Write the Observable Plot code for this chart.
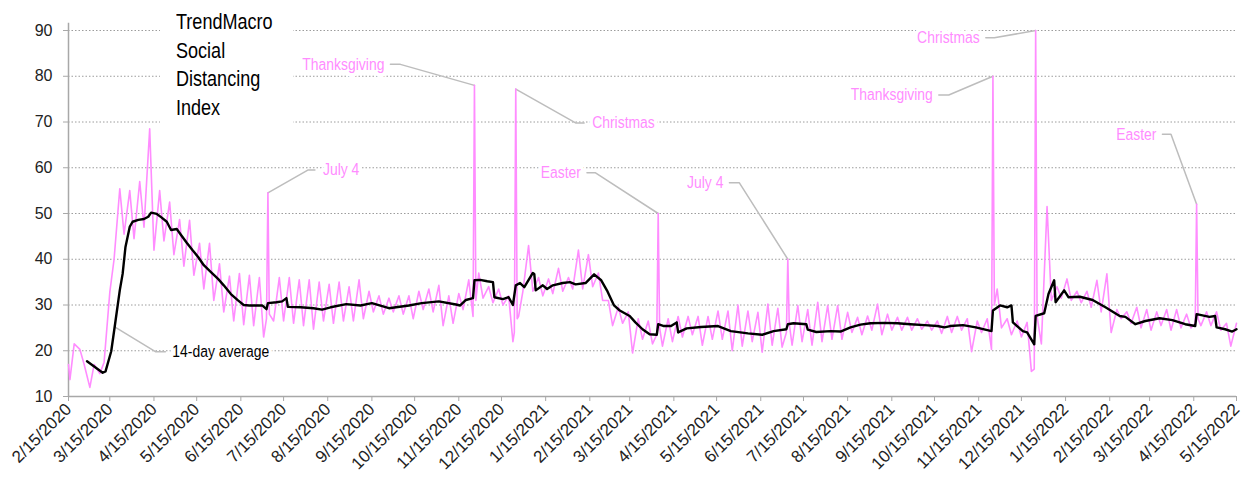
<!DOCTYPE html>
<html><head><meta charset="utf-8">
<script src="https://cdn.jsdelivr.net/npm/d3@7"></script>
<script src="https://cdn.jsdelivr.net/npm/@observablehq/plot@0.6"></script>
<style>
body{margin:0;background:#fff;}
#wrap{position:relative;width:1249px;height:485px;overflow:hidden;}
#wrap svg{display:block;}
#title{position:absolute;left:160px;top:0;width:133px;height:130px;background:#fff;box-sizing:border-box;padding:8px 0 0 16px;font-family:'Liberation Sans',Arial,sans-serif;font-size:22px;line-height:28.5px;color:#000;}
#title span{display:block;transform:scaleX(0.82);transform-origin:left top;white-space:nowrap;}
</style></head><body>
<div id="wrap"><div id="title"><span>TrendMacro</span><span>Social</span><span>Distancing</span><span>Index</span></div></div>
<script>
// ---------- data ----------
const firstDate = "2020-02-15";
const firstValue = 17;
const weekStart = "2020-02-16"; // first Sunday
// Sunday (weekend peak) readings, one per week
const sundayValues = [13.7,20.3,12,15,32.8,55.4,55,57,68.5,55,52.5,48.7,48.5,43.5,43.5,39,36.3,36.9,36.5,36,
  28,36,36,35.5,35.5,35,34.5,35,34,35.5,33,32,31.5,32,32,33,33.5,34.3,32,32.5,
  35.5,37,34,33.5,32,27.5,43,36,35.7,38,36,42,41,37,31,29.5,28.5,27,26.5,50,
  27,27.5,27.5,27.5,27.5,28.7,28.7,30,28.7,28.4,30.2,29.3,40,29.9,29,30.6,29.9,29.9,28.4,27.3,
  27.6,30.2,28,27.3,27.3,27,26.5,26.5,27.5,27.5,27,26.5,27,33.5,27,26.5,26.2,27.5,51.5,34,
  35.7,33,33,35.4,36.8,29,28.5,29.5,29,28.5,29,29,28,52,28.5,28.5,26,26];
// Wednesday (midweek) readings, one per week
const wednesdayValues = [21.5,17,17,17.5,40,45.5,44.5,47,42,44,41,38.5,36.5,33.5,31,28.5,26.5,25.7,25.5,23,
  26.5,26.5,26,25.5,24.7,26.5,26,26.5,26.5,27,28.5,28,28.5,28,27,29,28.5,25.5,26,29,
  27.5,31.5,30.5,30,22,33,33,32,32.5,33,33.5,33.5,34,31,25.5,26,19.5,22.5,21.5,21,
  22,23,23.5,21.2,22.5,22.5,20,21,22,19.7,21.2,20.8,21.2,22,21.2,22,22.5,22.5,24,23.5,
  24.5,23.5,24.5,24.5,24.5,24.7,24.5,23.8,24,24.5,19.8,24,20.3,25,23.5,23,15.5,21.5,31,31.5,
  31,30.5,29.5,28.5,24,27,26,25,24.5,25.5,24.5,25,25,25.5,25.5,24.5,21];
// holidays
const holidayLabels = ["July 4","Thanksgiving","Christmas","Easter","July 4","Thanksgiving","Christmas","Easter"];
const holidayDates = ["2020-07-04","2020-11-26","2020-12-25","2021-04-04","2021-07-04","2021-11-25","2021-12-25","2022-04-17"];
const holidayValues = [54.5,78,77.2,50,40,80,90,52];
const dayBeforeValues = [27,27.5,24,23.5,24,20.3,16,26];
const dayAfterValues = [28,31,27,25,26,30,27.5,27];
// label placement (data space)
const labelElbowDates = ["2020-08-01","2020-10-05","2021-02-05","2021-02-19","2021-05-31","2021-10-25","2021-11-26","2022-03-30"];
const labelTipDates = ["2020-08-06","2020-09-28","2021-02-11","2021-02-13","2021-05-24","2021-10-18","2021-11-20","2022-03-24"];
const labelValues = [59.5,82.6,69.8,58.9,56.7,75.9,88.4,67.3];
const labelSides = ["start","end","start","end","end","end","end","end"];
// 14-day average
const avgDates = ["2020-02-28","2020-03-10","2020-03-12","2020-03-16","2020-03-19","2020-03-22","2020-03-24","2020-03-26","2020-03-29","2020-03-31",
  "2020-04-04","2020-04-08","2020-04-11","2020-04-13","2020-04-17","2020-04-20","2020-04-24","2020-04-27","2020-05-01","2020-05-04",
  "2020-05-08","2020-05-12","2020-05-16","2020-05-20","2020-05-25","2020-05-30","2020-06-03","2020-06-08","2020-06-13","2020-06-17",
  "2020-06-21","2020-06-27","2020-06-30","2020-07-03","2020-07-04","2020-07-10","2020-07-14","2020-07-17","2020-07-18","2020-07-27",
  "2020-08-05","2020-08-11","2020-08-17","2020-08-28","2020-09-07","2020-09-15","2020-09-27","2020-10-02","2020-10-11","2020-10-20",
  "2020-11-01","2020-11-13","2020-11-16","2020-11-20","2020-11-25","2020-11-26","2020-11-30","2020-12-05","2020-12-09","2020-12-10",
  "2020-12-16","2020-12-20","2020-12-23","2020-12-25","2020-12-28","2020-12-31","2021-01-06","2021-01-07","2021-01-08","2021-01-13",
  "2021-01-16","2021-01-20","2021-01-27","2021-02-01","2021-02-05","2021-02-12","2021-02-18","2021-02-23","2021-02-27","2021-03-04",
  "2021-03-08","2021-03-15","2021-03-19","2021-03-24","2021-03-29","2021-04-03","2021-04-04","2021-04-08","2021-04-13","2021-04-17",
  "2021-04-18","2021-04-24","2021-05-04","2021-05-16","2021-05-25","2021-06-06","2021-06-16","2021-06-24","2021-07-03","2021-07-04",
  "2021-07-08","2021-07-17","2021-07-18","2021-07-24","2021-08-03","2021-08-10","2021-08-17","2021-08-24","2021-08-31","2021-09-10",
  "2021-09-19","2021-09-28","2021-10-08","2021-10-17","2021-10-22","2021-10-26","2021-11-04","2021-11-13","2021-11-24","2021-11-25",
  "2021-11-30","2021-12-05","2021-12-08","2021-12-09","2021-12-16","2021-12-19","2021-12-24","2021-12-25","2021-12-31","2022-01-03",
  "2022-01-07","2022-01-08","2022-01-14","2022-01-17","2022-01-25","2022-02-03","2022-02-12","2022-02-22","2022-02-26","2022-03-05",
  "2022-03-12","2022-03-22","2022-03-31","2022-04-09","2022-04-16","2022-04-17","2022-04-26","2022-04-30","2022-05-01","2022-05-07",
  "2022-05-12","2022-05-15"];
const avgValues = [17.7,15.2,15.5,19.9,26.5,33.2,36.8,42.7,47.1,48.2,
  48.6,48.8,49.3,50.2,49.9,49.2,48.2,46.4,46.6,45.3,
  43.6,42,40.5,38.7,37.2,35.7,34.3,32.4,31,30,
  29.9,29.9,29.9,29.1,30.4,30.6,30.8,31.5,29.6,29.5,
  29.3,29,29.5,30.2,29.9,30.4,29.3,29.5,29.9,30.4,
  30.8,30.1,29.9,31.1,31.5,35.4,35.5,35.2,35,31.7,
  31.3,31.7,30,34.3,34.8,33.9,37,36.8,33.2,34.3,
  33.5,34.3,34.8,35,34.5,34.8,36.7,35.4,33.2,29.9,
  28.8,27.6,26.2,24.7,23.6,23.5,25.8,25.4,25.4,26.2,
  24,24.9,25.2,25.4,24.3,23.8,23.5,24.3,24.7,25.8,
  26,25.8,24.6,24.1,24.3,24.2,25.1,25.7,26,26.1,
  26,25.8,25.6,25.4,25.1,25.4,25.6,25.1,24.3,28.8,
  29.9,29.5,29.9,26.2,24.3,24,21.4,27.6,28.2,32.4,
  35.4,30.6,33.2,31.7,31.8,31.1,29.5,27.6,27.4,25.8,
  26.5,27.1,26.7,25.8,25.4,28,27.4,27.6,25.1,24.7,
  24.2,24.7];
const avgLabel = {text: "14-day average", anchorDate: "2020-03-19", anchorValue: 25.1, elbowDate: "2020-04-16", tipDate: "2020-04-23", value: 19.8};
// axes
const yTicks = [10,20,30,40,50,60,70,80,90];
const xTickDates = ["2020-02-15","2020-03-15","2020-04-15","2020-05-15","2020-06-15","2020-07-15","2020-08-15","2020-09-15","2020-10-15","2020-11-15","2020-12-15",
  "2021-01-15","2021-02-15","2021-03-15","2021-04-15","2021-05-15","2021-06-15","2021-07-15","2021-08-15","2021-09-15","2021-10-15","2021-11-15","2021-12-15",
  "2022-01-15","2022-02-15","2022-03-15","2022-04-15","2022-05-15"];

// ---------- build ----------
const D = s => new Date(s + "T00:00:00Z");
const pinkMap = new Map();
const put = (d, v) => pinkMap.set(+d, v);
put(D(firstDate), firstValue);
const ws = D(weekStart);
sundayValues.forEach((v, i) => put(d3.utcDay.offset(ws, 7 * i), v));
wednesdayValues.forEach((v, i) => put(d3.utcDay.offset(ws, 7 * i + 3), v));
holidayDates.forEach((s, i) => {
  put(d3.utcDay.offset(D(s), -1), dayBeforeValues[i]);
  put(d3.utcDay.offset(D(s), 1), dayAfterValues[i]);
});
holidayDates.forEach((s, i) => put(D(s), holidayValues[i]));
const pink = [...pinkMap].map(([t, v]) => ({date: new Date(t), value: v})).sort((a, b) => a.date - b.date);
const avg = avgDates.map((s, i) => ({date: D(s), value: avgValues[i]}));

const ann = holidayLabels.map((l, i) => ({
  label: l, anchor: D(holidayDates[i]), anchorValue: holidayValues[i],
  elbow: D(labelElbowDates[i]), tip: D(labelTipDates[i]), value: labelValues[i], side: labelSides[i]
}));
const leaders = [];
ann.forEach((a, i) => {
  leaders.push({k: i, date: a.anchor, value: a.anchorValue});
  leaders.push({k: i, date: a.elbow, value: a.value});
  leaders.push({k: i, date: a.tip, value: a.value});
});
leaders.push({k: 99, date: D(avgLabel.anchorDate), value: avgLabel.anchorValue});
leaders.push({k: 99, date: D(avgLabel.elbowDate), value: avgLabel.value});
leaders.push({k: 99, date: D(avgLabel.tipDate), value: avgLabel.value});

const font = "'Liberation Sans',Arial,sans-serif";
const pinkC = "#ff8cff";
const axisC = "#a8a8a8";
const fmt = d3.utcFormat("%-m/%-d/%Y");
const x0 = D(xTickDates[0]), x1 = D(xTickDates[xTickDates.length - 1]);

const chart = Plot.plot({
  width: 1249, height: 485,
  marginLeft: 68, marginRight: 13, marginTop: 30, marginBottom: 89,
  style: {fontFamily: font, fontSize: "16px", color: "#222", background: "#fff"},
  x: {type: "utc", domain: [x0, x1]},
  y: {domain: [10, 90]},
  marks: [
    Plot.gridY(yTicks.filter(d => d > 10), {stroke: "#9c9c9c", strokeOpacity: 1, strokeDasharray: "1.5,2"}),
    Plot.ruleX([x0], {y1: 10, y2: 91.6, stroke: axisC, strokeWidth: 1.5}),
    Plot.ruleY([10], {stroke: axisC, strokeWidth: 1.5}),
    Plot.axisY(yTicks, {tickSize: 5, tickPadding: 11, stroke: axisC, fill: "#222", label: null, fontSize: 16}),
    Plot.axisX(xTickDates.map(D), {tickSize: 5, tickPadding: 5, tickRotate: -45, tickFormat: fmt, stroke: axisC, fill: "#222", label: null, fontSize: 17}),
    Plot.line(leaders, {x: "date", y: "value", z: "k", stroke: "#bdbdbd", strokeWidth: 1.5}),
    Plot.line(pink, {x: "date", y: "value", stroke: pinkC, strokeWidth: 1.6}),
    Plot.line(avg, {x: "date", y: "value", stroke: "#000", strokeWidth: 2.4}),
    Plot.text(ann.filter(a => a.side === "start"), {x: "tip", y: "value", text: "label", textAnchor: "start", dx: 8, fill: pinkC, stroke: "#fff", strokeWidth: 8, paintOrder: "stroke", fontSize: 17}),
    Plot.text(ann.filter(a => a.side === "end"), {x: "tip", y: "value", text: "label", textAnchor: "end", dx: -6, fill: pinkC, stroke: "#fff", strokeWidth: 8, paintOrder: "stroke", fontSize: 17}),
    Plot.text([avgLabel], {x: d => D(d.tipDate), y: "value", text: "text", textAnchor: "start", dx: 7, fill: "#000", stroke: "#fff", strokeWidth: 8, paintOrder: "stroke", fontSize: 17})
  ]
});
// condense the annotation lettering (narrow face)
chart.querySelectorAll('g[aria-label="text"] text').forEach(t => {
  let tr = t.getAttribute("transform");
  if (!tr) {
    const x = t.getAttribute("x") || 0, y = t.getAttribute("y") || 0;
    t.removeAttribute("x"); t.removeAttribute("y");
    tr = `translate(${x},${y})`;
  }
  t.setAttribute("transform", tr + " scale(0.82,1)");
});
const wrap = document.getElementById("wrap");
wrap.insertBefore(chart, document.getElementById("title"));
</script>
</body></html>
